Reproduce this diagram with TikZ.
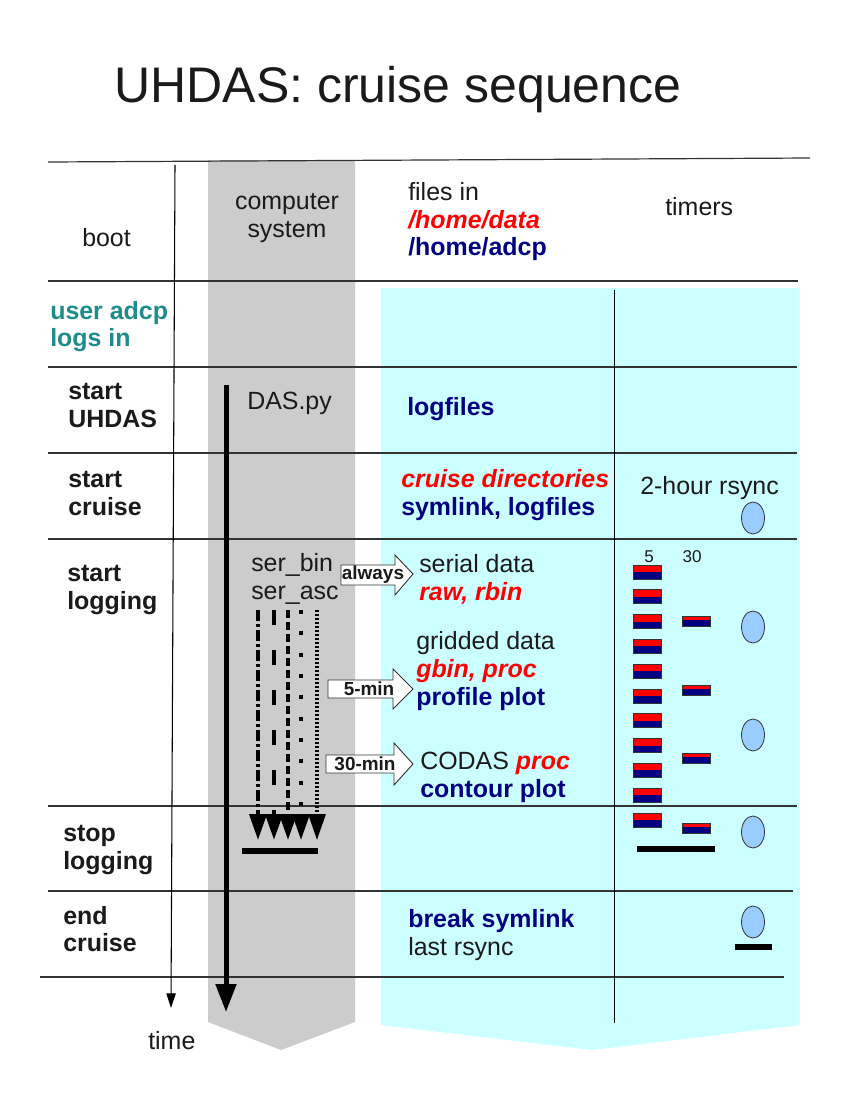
\documentclass[tikz,border=0pt]{standalone}
\usepackage{fontspec}
\setmainfont{Liberation Sans}
\usetikzlibrary{arrows.meta}
\definecolor{navy}{HTML}{000080}
\definecolor{myred}{HTML}{FF0000}
\definecolor{tealc}{HTML}{1F8C8C}
\definecolor{greycol}{HTML}{CCCCCC}
\definecolor{cyancol}{HTML}{CCFFFF}
\definecolor{ellfill}{HTML}{99CCFF}
\definecolor{txtc}{HTML}{1A1A1A}
\definecolor{rulec}{HTML}{333333}
\begin{document}
\begin{tikzpicture}[x=0.75pt,y=-0.75pt,
  plain/.style={anchor=base west, inner sep=0pt, font=\fontsize{18.7}{21}\selectfont, text=txtc},
  boldlbl/.style={plain, font=\fontsize{18.7}{21}\selectfont\bfseries},
  navylbl/.style={boldlbl, text=navy},
  redlbl/.style={plain, font=\fontsize{18.7}{21}\selectfont\bfseries\itshape, text=myred},
  tealbl/.style={boldlbl, text=tealc},
  rowrule/.style={draw=rulec, line width=0.9pt},
  blockarr/.style={draw=rulec, fill=white, line width=0.7pt, line join=miter},
  arrtxt/.style={inner sep=0pt, font=\fontsize{14.2}{16}\selectfont\bfseries, text=txtc},
  smalltxt/.style={inner sep=0pt, anchor=base, font=\fontsize{12.8}{15}\selectfont, text=txtc},
  timerell/.style={draw=rulec, fill=ellfill, line width=0.6pt},
  bar/.style={line width=4.5pt, draw=black},
  dasharrow/.style={draw=black, -{Triangle[width=12.75pt,length=19.5pt]}}
]
\useasboundingbox (0,0) rectangle (850,1100);
\fill[white] (0,0) rectangle (850,1100);

% background columns
\fill[greycol] (208,160) -- (355,160) -- (355,1022) -- (281,1050) -- (208,1022) -- cycle;
\fill[cyancol] (381,288) -- (800,288) -- (800,1025) -- (592,1050) -- (381,1025) -- cycle;

% title
\node[anchor=base, inner sep=0pt, font=\fontsize{37.5}{45}\selectfont, text=txtc] (title) at (398,102) {UHDAS: cruise sequence};

% row rules
\draw[rowrule] (48,162) -- (810,158);
\draw[rowrule] (48,281) -- (798,281);
\draw[rowrule] (48,367) -- (797,367);
\draw[rowrule] (48,453) -- (797,453);
\draw[rowrule] (48,539) -- (797,539);
\draw[rowrule] (48,806) -- (797,806);
\draw[rowrule] (48,891) -- (793,891);
\draw[rowrule] (40,977) -- (784,977);

% timers column rule
\draw[draw=black, line width=0.7pt] (614,290) -- (614,1023);

% time axis
\coordinate (tstart) at (175,165);
\coordinate (tend) at (171,1008);
\draw[draw=black, line width=0.8pt, -{Triangle[width=7pt,length=11pt]}] (tstart) -- (tend);
\node[plain] (time) at (148,1049) {time};

% header
\node[plain] (boot) at (82,246) {boot};
\node[plain, anchor=base] (comp1) at (287,209) {computer};
\node[plain, anchor=base] (comp2) at (287,237) {system};
\node[plain] (files1) at (408,200) {files in};
\node[redlbl] (files2) at (408,228) {/home/data};
\node[navylbl] (files3) at (408,255) {/home/adcp};
\node[plain] (timers) at (665,215) {timers};

% rows: left labels
\node[tealbl] (user1) at (50,319) {user adcp};
\node[tealbl] (user2) at (50,346) {logs in};
\node[boldlbl] (su1) at (68,399) {start};
\node[boldlbl] (su2) at (68,427) {UHDAS};
\node[boldlbl] (sc1) at (68,487) {start};
\node[boldlbl] (sc2) at (68,515) {cruise};
\node[boldlbl] (sl1) at (67,581) {start};
\node[boldlbl] (sl2) at (67,609) {logging};
\node[boldlbl] (st1) at (63,841) {stop};
\node[boldlbl] (st2) at (63,869) {logging};
\node[boldlbl] (ec1) at (63,924) {end};
\node[boldlbl] (ec2) at (63,951) {cruise};

% computer system column
\node[plain] (das) at (247,409) {DAS.py};
\coordinate (dasS) at (226,385);
\coordinate (dasE) at (226,1012);
\draw[draw=black, line width=3.75pt, -{Triangle[width=15pt,length=21pt]}] (dasS) -- (dasE);

\node[plain] (serbin) at (251,571) {ser\_bin};
\node[plain] (serasc) at (251,599) {ser\_asc};

\coordinate (d1s) at (258,610); \coordinate (d1e) at (258,840);
\coordinate (d2s) at (274,610); \coordinate (d2e) at (274,840);
\coordinate (d3s) at (288,610); \coordinate (d3e) at (288,840);
\coordinate (d4s) at (301,610); \coordinate (d4e) at (301,840);
\coordinate (d5s) at (317,610); \coordinate (d5e) at (317,840);
\draw[dasharrow, line width=3pt, dash pattern=on 8pt off 2.5pt on 2pt off 2.5pt] (d1s) -- (d1e);
\draw[dasharrow, line width=3.3pt, dash pattern=on 11pt off 19pt] (d2s) -- (d2e);
\draw[dasharrow, line width=3pt, dash pattern=on 6pt off 3pt] (d3s) -- (d3e);
\draw[dasharrow, line width=3pt, dash pattern=on 3pt off 13pt] (d4s) -- (d4e);
\draw[dasharrow, line width=2.4pt, dash pattern=on 1.5pt off 1.5pt] (d5s) -- (d5e);
\draw[bar] (242,851) -- (318,851);

% block arrows
\draw[blockarr] (341,565) -- (395,565) -- (395,555) -- (413,574) -- (395,595) -- (395,585) -- (341,585) -- cycle;
\node[arrtxt] (always) at (373,575) {always};
\draw[blockarr] (328,680) -- (393,680) -- (393,669) -- (413,689) -- (393,709) -- (393,698) -- (328,698) -- cycle;
\node[arrtxt] (fivemin) at (369,689) {5-min};
\draw[blockarr] (326,755) -- (394,755) -- (394,743) -- (413,764) -- (394,785) -- (394,773) -- (326,773) -- cycle;
\node[arrtxt] (thirtymin) at (365,764) {30-min};

% files column
\node[navylbl] (logf) at (407,415) {logfiles};
\node[redlbl] (cdirs) at (401,487) {cruise directories};
\node[navylbl] (syml) at (401,515) {symlink, logfiles};
\node[plain] (serial1) at (419,572) {serial data};
\node[redlbl] (serial2) at (419,600) {raw, rbin};
\node[plain] (grid1) at (416,649) {gridded data};
\node[redlbl] (grid2) at (416,677) {gbin, proc};
\node[navylbl] (grid3) at (416,705) {profile plot};
\node[plain] (codas1) at (420,769) {CODAS \textcolor{myred}{\bfseries\itshape proc}};
\node[navylbl] (codas2) at (420,797) {contour plot};
\node[navylbl] (brk) at (408,927) {break symlink};
\node[plain] (lastr) at (408,955) {last rsync};

% timers column
\node[plain] (rsync) at (640,494) {2-hour rsync};
\node[smalltxt] (five) at (649,562) {5};
\node[smalltxt] (thirty) at (692,562) {30};
\foreach \i in {0,...,10} {
  \pgfmathsetmacro\yy{565+24.8*\i}
  \fill[myred] (633,\yy) rectangle (661,\yy+7);
  \fill[navy] (633,\yy+7) rectangle (661,\yy+14);
  \draw[rulec, line width=0.5pt] (633,\yy) rectangle (661,\yy+14);
}
\foreach \yy in {616,685,753,823} {
  \fill[myred] (682,\yy) rectangle (710,\yy+4);
  \fill[navy] (682,\yy+4) rectangle (710,\yy+10);
  \draw[rulec, line width=0.5pt] (682,\yy) rectangle (710,\yy+10);
}
\foreach \yy/\nm in {518/e1,627/e2,735/e3,832/e4,922/e5} {
  \draw[timerell] (753,\yy) ellipse [x radius=11.5, y radius=16];
}
\draw[bar] (637,849) -- (715,849);
\draw[bar] (735,947) -- (772,947);
\end{tikzpicture}
\end{document}
